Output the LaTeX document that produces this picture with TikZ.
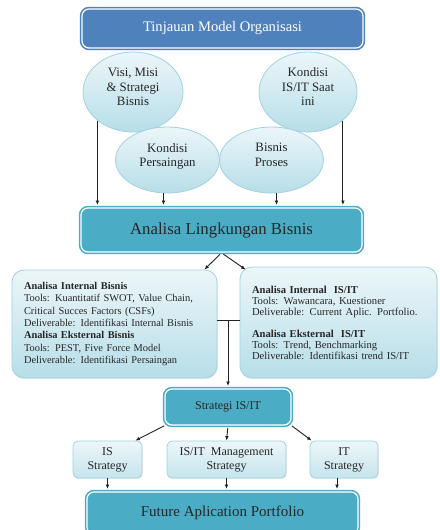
\documentclass[tikz,border=0pt]{standalone}
\usepackage{fontspec}
\setmainfont{Liberation Serif}
\usetikzlibrary{arrows.meta, shapes.geometric, positioning, calc, shadows}
\definecolor{hdrblue}{RGB}{79,129,189}
\definecolor{tealbox}{RGB}{75,172,198}
\definecolor{paletop}{RGB}{236,246,249}
\definecolor{palebot}{RGB}{183,222,232}
\definecolor{paleline}{RGB}{160,210,224}
\definecolor{arrgray}{RGB}{35,35,35}

\begin{document}
\begin{tikzpicture}[
  x=1pt, y=-1pt,
  every node/.style={font=\fontsize{12}{14}\selectfont, align=center, inner sep=0pt},
  hdrbox/.style={rectangle, rounded corners=7pt, fill=hdrblue, draw=hdrblue,
                 double=white, double distance=1.2pt, line width=1.6pt,
                 text=white, font=\fontsize{14.6}{17}\selectfont,
                 drop shadow={opacity=0.2, shadow xshift=0.8pt, shadow yshift=-1.2pt}},
  mainbox/.style={rectangle, rounded corners=7pt, fill=tealbox, draw=tealbox,
                  double=white, double distance=1.2pt, line width=1.6pt,
                  text=black!85,
                  drop shadow={opacity=0.2, shadow xshift=0.8pt, shadow yshift=-1.2pt}},
  oval/.style={ellipse, top color=paletop, bottom color=palebot, draw=paleline,
               line width=0.8pt, text=black!85, text depth=10pt,
               font=\fontsize{12.8}{14.5}\selectfont},
  note/.style={rectangle, rounded corners=12pt, top color=paletop, bottom color=palebot,
               draw=paleline, line width=0.8pt, align=left, inner xsep=12pt,
               font=\fontsize{10.4}{12.3}\selectfont, text=black!85,
               drop shadow={opacity=0.15, shadow xshift=0.8pt, shadow yshift=-1.2pt}},
  sub/.style={rectangle, rounded corners=5pt, top color=paletop, bottom color=palebot!80,
              draw=paleline, line width=0.8pt, text=black!85,
              minimum height=37pt,
              drop shadow={opacity=0.15, shadow xshift=0.8pt, shadow yshift=-1.2pt}},
  arr/.style={-{Latex[length=4.5pt, width=3.8pt]}, line width=0.9pt, draw=arrgray},
  arrm/.style={arr, shorten >=2.2pt},
]
\useasboundingbox (0,0) rectangle (439,530);

\node[hdrbox, minimum width=281pt, minimum height=39pt] (tmo) at (222.5,28.5) {Tinjauan Model Organisasi};

% input ellipses
\node[oval, minimum width=100pt, minimum height=80pt] (vms) at (133,92) {Visi, Misi\\\& Strategi\\Bisnis};
\node[oval, minimum width=98pt, minimum height=80pt] (kit) at (308,92) {Kondisi\\IS/IT Saat\\ini};
\node[oval, minimum width=104pt, minimum height=66pt] (kps) at (167.5,160) {Kondisi\\Persaingan};
\node[oval, minimum width=104pt, minimum height=66pt] (bpr) at (271.5,160) {Bisnis\\Proses};

\node[mainbox, minimum width=281pt, minimum height=44pt, font=\fontsize{16.8}{19}\selectfont] (alb) at (221.5,230) {Analisa Lingkungan Bisnis};

\draw[arrm] (vms.south west) -- (vms.south west |- alb.north);
\draw[arrm] ([xshift=-4pt]kps.south) -- ([xshift=-4pt]kps.south |- alb.north);
\draw[arrm] ([xshift=5pt]bpr.south) -- ([xshift=5pt]bpr.south |- alb.north);
\draw[arrm] (kit.south east) -- (kit.south east |- alb.north);

% analysis boxes
\node[note, text width=181pt, minimum height=108pt] (aib) at (114.5,324) {%
  \textbf{Analisa Internal Bisnis}\\
  Tools: Kuantitatif SWOT, Value Chain,\\
  Critical Succes Factors (CSFs)\\
  Deliverable: Identifikasi Internal Bisnis\\
  \textbf{Analisa Eksternal Bisnis}\\
  Tools: PEST, Five Force Model\\
  Deliverable: Identifikasi Persaingan};
\node[note, text width=173pt, minimum height=111pt, font=\fontsize{10.6}{11}\selectfont] (ait) at (338.5,322.5) {%
  \textbf{Analisa Internal~~IS/IT}\\
  Tools: Wawancara, Kuestioner\\
  Deliverable: Current Aplic. Portfolio.\\[11pt]
  \textbf{Analisa Eksternal~~IS/IT}\\
  Tools: Trend, Benchmarking\\
  Deliverable: Identifikasi trend IS/IT\\[6pt]};

\draw[arr, shorten <=2.2pt] (alb.south) -- ([xshift=-13pt]aib.north east);
\draw[arr, shorten <=2.2pt] (alb.south) -- ([xshift=6pt, yshift=-3pt]ait.north west);

\coordinate (jn) at (228,320);
\draw[line width=0.9pt, arrgray] (aib.east |- jn) -- (ait.west |- jn);

\node[mainbox, minimum width=126pt, minimum height=36pt] (sit) at (228,407) {Strategi IS/IT};
\draw[arrm] (jn) -- (sit.north);

% strategy parts
\node[sub, minimum width=69pt] (iss) at (107.5,459.5) {IS\\Strategy};
\node[sub, minimum width=119pt] (ims) at (226.5,459.5) {IS/IT~~Management\\Strategy};
\node[sub, minimum width=68pt] (its) at (344,459.5) {IT\\Strategy};

\draw[arr] (sit.south west) -- ([xshift=-7pt]iss.north east);
\draw[arr, shorten <=2.2pt] (sit.south) -- (ims.north);
\draw[arr] (sit.south east) -- ([xshift=2pt]its.north west);

\node[mainbox, minimum width=271pt, minimum height=42pt, font=\fontsize{15}{17}\selectfont] (fap) at (222.5,513) {Future Aplication Portfolio};

\draw[arrm] (iss.south) -- (iss.south |- fap.north);
\draw[arrm] (ims.south) -- (ims.south |- fap.north);
\draw[arrm] ([xshift=-7pt]its.south) -- ([xshift=-7pt]its.south |- fap.north);
\end{tikzpicture}
\end{document}
